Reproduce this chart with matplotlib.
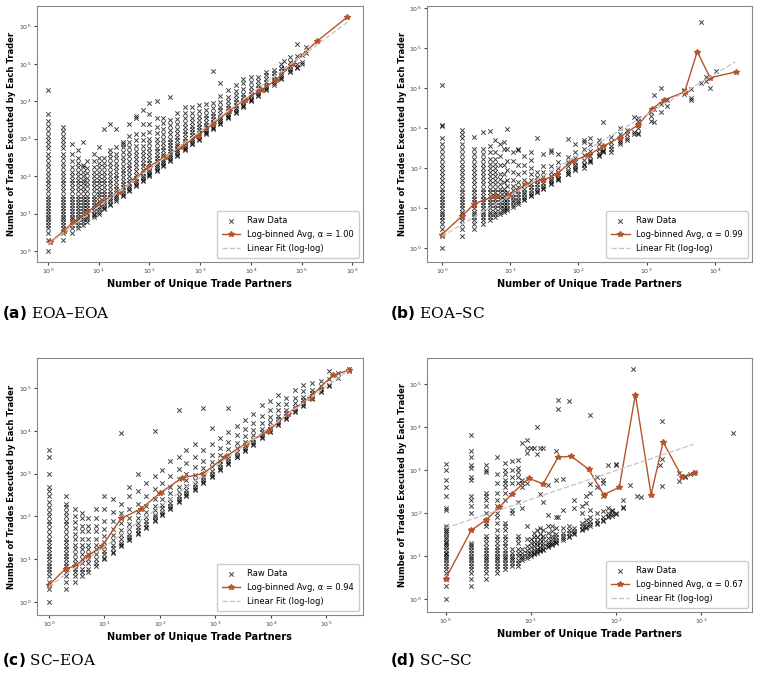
import matplotlib
matplotlib.use("Agg")
import matplotlib.pyplot as plt
import numpy as np

# ---------------- data ----------------
a_cols = {
 1: [1,2,3,4,5,6,7,8,10,12,14,17,20,25,30,40,50,65,80,100,130,170,220,300,400,550,700,900,1200,1600,2200,3000,4500,20000],
 2: [2,3,4,5,6,7,8,10,12,14,17,20,25,30,40,50,65,80,100,130,170,220,300,400,550,700,900,1200,1600,2000],
 3: [3,4,5,6,7,8,10,12,14,17,20,25,30,40,50,65,80,100,130,170,250,400,700],
 4: [4,5,6,7,8,10,12,14,17,20,25,30,40,50,65,80,100,130,170,220,300,500],
 5: [5,6,7,8,10,12,14,17,20,25,30,40,50,65,80,100,130,170,200,800],
 6: [6,7,8,10,12,14,17,20,25,30,40,55,70,90,120,160,250],
 8: [8,9,10,12,14,17,20,25,30,40,50,65,80,100,130,170,250,400],
 10: [10,11,13,15,18,22,27,33,40,50,65,80,100,130,170,220,300,600],
 13: [13,14,16,19,22,27,33,40,50,65,80,100,130,170,220,300,1800],
 17: [17,18,21,24,28,34,40,50,65,80,100,130,170,220,300,400,500,2500],
 22: [22,24,27,31,36,44,55,70,90,110,140,180,230,300,400,600,1800],
 30: [30,32,36,42,50,60,75,95,120,150,190,250,330,450,600,800,700],
 40: [40,43,48,55,65,80,100,125,160,200,260,340,450,600,800,1200,2500],
 55: [55,58,65,75,90,110,135,170,220,280,360,480,650,900,1300,3500,4000],
 75: [75,80,90,100,120,150,185,230,290,370,480,650,900,1300,2500,6000],
 100: [100,105,115,130,150,180,220,270,340,430,560,750,1000,1500,2500,4500,9000],
 140: [140,150,165,185,210,250,300,370,460,580,750,1000,1400,2000,3500,10000],
 190: [190,200,220,250,290,340,400,490,600,760,1000,1300,1800,2600,3500],
 260: [260,275,300,340,390,460,550,670,820,1000,1300,1700,2300,3200,13000],
 350: [350,370,410,460,530,620,740,900,1100,1400,1800,2400,3300,5000],
 500: [500,530,580,650,750,880,1050,1300,1600,2000,2600,3500,5000,7000],
 700: [700,740,810,910,1050,1250,1500,1800,2200,2800,3600,5000,7000],
 950: [950,1000,1100,1250,1450,1700,2000,2500,3100,4000,5500,8000],
 1300: [1300,1380,1520,1720,2000,2350,2800,3500,4400,6000,8500],
 1800: [1800,1900,2100,2400,2800,3300,4000,5000,6500,9000,65000],
 2500: [2500,2650,2900,3300,3900,4700,5700,7200,9500,14000,30000],
 3500: [3500,3700,4100,4700,5500,6600,8000,10000,13000,20000],
 5000: [5000,5300,5900,6700,7800,9300,11500,14500,19000,27000],
 7000: [7000,7400,8200,9400,11000,13000,16000,21000,30000,40000],
 10000: [10000,10600,11800,13500,16000,19000,24000,33000,45000],
 14000: [14000,15000,16500,19000,22500,27000,34000,45000],
 20000: [20000,21500,24000,28000,33000,40000,50000,60000],
 28000: [28000,30000,34000,40000,47000,56000,70000],
 40000: [40000,43000,48000,55000,65000,80000,100000],
 45000: [80000,120000],
 60000: [60000,65000,75000,90000,110000,150000],
 80000: [80000,85000,100000,160000],
 100000: [100000,110000,170000],
 120000: [200000,280000],
 80001: [350000],
}
a_bx = [1.1,2.1,3.2,6,11,25,50,100,200,420,900,1800,3700,7500,16000,32000,65000,200000,800000]
a_by = [1.7,3.5,6,11,20,38,80,180,330,600,1200,2500,5500,11000,20000,38000,100000,400000,1800000]
a_fit_x = [1, 800000]
a_fit_y = [1.5, 1300000]

b_cols = {
 1: [1,2,3,4,5,6,7,8,10,12,14,17,20,25,30,40,50,65,80,100,130,170,220,300,400,550,1100,1200,12000],
 2: [2,3,4,5,6,7,8,10,12,14,17,20,25,30,40,50,65,80,100,130,170,220,300,400,550,700,900],
 3: [3,4,5,6,7,8,10,12,14,17,20,25,30,40,50,65,80,100,130,170,220,300,600],
 4: [4,5,6,7,8,10,12,14,17,20,25,30,40,50,65,80,100,130,170,220,300,800],
 5: [5,6,7,8,10,12,14,17,20,25,30,40,50,65,80,100,130,170,250,350,850],
 6: [6,7,8,10,12,14,17,20,25,30,40,50,65,80,100,130,170,250,500],
 7: [7,8,10,12,14,17,20,25,30,40,55,70,120,200,400],
 8: [8,9,10,12,14,17,20,25,30,45,70,120,300,450],
 9: [9,10,12,14,17,20,25,35,50,90,150,300,950],
 11: [11,12,14,16,19,23,28,35,50,80,150,250],
 13: [13,14,16,19,22,27,33,45,70,120,280,300],
 16: [16,17,19,22,26,31,38,50,80,120,200],
 20: [20,21,24,28,33,40,50,70,100,160,250],
 25: [25,26,29,34,40,48,60,80,550],
 30: [30,32,36,42,50,60,80,110,230],
 40: [40,42,47,55,65,80,110,250,280],
 50: [50,53,58,67,80,100,140,220],
 70: [70,73,80,92,110,140,190,520],
 90: [90,95,105,120,145,180,250,400],
 120: [100,120,130,160,210,300,450,500],
 150: [140,150,160,200,260,400,550],
 200: [200,210,240,300,400,500],
 230: [250,260,280,1400],
 300: [250,300,350,450,600],
 400: [400,450,500,700,1000],
 520: [500,550,700,900],
 650: [700,800,1900],
 750: [700,750,1000,1200,1500,1800],
 1150: [1500,2000,2500],
 1300: [1400,3000,6500],
 1600: [2500,4000,10000],
 2000: [3500,5000],
 3500: [7000,8500,9000],
 4500: [5000,5500,9500],
 6300: [13000,430000],
 7500: [15000,19000],
 8500: [10000],
 10500: [27000],
}
b_bx = [1,2,3,6,10,17,30,48,80,140,230,400,750,1200,1800,3600,5500,8500,20000]
b_by = [2.2,6.5,13,20,21,40,50,70,150,210,350,580,1200,3000,5000,8000,80000,18000,25000]
b_fit_x = [1, 20000]
b_fit_y = [2.0, 45000]

c_cols = {
 1: [1,2,3,4,5,6,7,8,10,12,14,17,20,25,30,40,50,65,80,100,130,170,220,300,400,500,1000,2500,3500],
 2: [2,3,4,5,6,7,8,10,12,14,17,20,25,30,40,50,65,80,100,130,170,200,300],
 3: [3,4,5,6,8,10,13,17,22,30,40,55,75,100,150],
 4: [4,5,6,8,10,13,17,22,30,45,60,90,120],
 5: [5,6,8,10,13,17,22,30,45,60,90],
 7: [7,8,10,13,17,22,30,45,60,90,150],
 10: [10,11,13,16,20,26,35,50,80,150,300],
 14: [14,15,18,22,28,36,50,80,130,250],
 20: [20,21,24,29,36,48,70,120,200,9000],
 28: [28,30,34,40,50,65,90,150,300,500],
 40: [40,42,48,57,70,90,130,200,400,1000],
 55: [55,58,65,78,95,125,180,300,600],
 80: [80,85,95,110,140,180,260,450,900,10000],
 110: [110,115,130,155,190,250,380,600,1200],
 150: [150,160,180,210,260,350,500,900,2000],
 220: [220,230,260,300,380,500,750,1300,2500,30000],
 300: [300,320,360,420,520,700,1000,1800,3500],
 420: [420,440,500,580,720,950,1400,2500,5000],
 600: [600,630,700,820,1000,1350,2000,3500,35000],
 850: [850,900,1000,1150,1400,1900,2800,5000,12000],
 1200: [1200,1260,1400,1650,2000,2700,4000,7000],
 1700: [1700,1800,2000,2300,2800,3800,5500,9500,35000],
 2400: [2400,2500,2800,3300,4000,5300,8000,13000],
 3400: [3400,3600,4000,4600,5600,7500,11000,18000],
 4800: [4800,5000,5600,6500,8000,10500,15000,25000],
 6800: [6800,7200,8000,9300,11000,15000,22000,40000],
 9500: [9500,10000,11200,13000,16000,21000,30000,50000],
 13500: [13500,14200,16000,18500,22000,30000,42000,70000],
 19000: [19000,20000,22500,26000,31000,42000,60000],
 27000: [27000,28500,32000,37000,45000,60000,90000],
 38000: [38000,40000,45000,52000,63000,85000,120000],
 55000: [55000,58000,65000,75000,90000,130000],
 80000: [80000,85000,95000,110000,150000],
 110000: [110000,120000,160000,250000],
 160000: [170000,220000],
 250000: [250000,280000],
}
c_bx = [1,2,3,5,9,20,45,100,250,600,1500,3500,9000,20000,50000,130000,250000]
c_by = [2.5,6,7,12,20,90,150,350,800,1000,2500,5000,10000,25000,60000,200000,260000]
c_fit_x = [1, 250000]
c_fit_y = [2.3, 260000]

d_cols = {
 1: [1,2,3,4,5,6,7,8,9,10,11,12,14,16,18,20,22,25,28,32,36,40,45,50,120,130,250,400,600,1000,1400],
 2: [2,3,4,5,6,7,8,9,10,12,14,16,18,20,40,100,150,200,250,600,700,1100,1300,2000,2800,6500],
 3: [3,4,5,6,7,8,9,10,12,14,16,20,25,30,50,60,70,100,150,200,250,300,900,1000,1300],
 4: [4,5,6,7,8,9,10,12,14,16,20,25,30,40,60,80,100,150,200,300,500,800,2000],
 5: [5,6,7,8,9,10,12,14,17,20,25,30,40,50,60,200,300,400,500,600,800,1000,1500],
 6: [6,7,8,9,10,12,15,100,120,500,700,1000,1600],
 7: [6,7,8,10,12,15,20,25,30,180,500,700,900,1100,1700],
 8: [8,9,10,12,15,130,400,500,600,4200],
 9: [9,10,12,14,17,25,50,2500,3200,5000,500],
 10: [10,11,13,16,20,25,3200],
 11: [11,12,14,17,22,28,35,3300],
 12: [12,13,15,18,22,28,40,2400,10000],
 13: [13,14,16,20,25,32,45,280,3300],
 14: [14,15,17,20,25,30,40,3300,180],
 16: [16,17,19,22,27,35,50,90,450],
 18: [18,19,21,25,30,38,50],
 20: [20,21,24,28,33,45,80,600,2800],
 21: [27000,43000,80],
 24: [24,26,30,35,45,120,620],
 28: [28,30,34,40,50,40000],
 32: [32,34,38,45,200,130],
 40: [40,42,50,60,150,100],
 45: [45,48,55,70,170,250],
 50: [50,55,65,80,120,300,19000,470],
 60: [55,60,70,100,700,400],
 70: [65,70,80,110,500,600,250],
 80: [80,85,100,130,1300],
 90: [85,95,110,120],
 100: [95,100,1400,1300],
 120: [130,140,200],
 145: [460],
 160: [230000],
 180: [250],
 200: [240],
 330: [1300],
 350: [14000,1800,430],
 550: [550,850],
 650: [700,750],
 750: [800],
 850: [900],
 2400: [7500],
}
d_bx = [1,2,3,4.3,6,9.5,14,21,30,48,72,110,170,260,360,600,830]
d_by = [3,40,70,140,280,650,480,2000,2100,1050,270,400,57000,270,4500,700,850]
d_fit_x = [1, 820]
d_fit_y = [45, 4000]

panels = [
 ("a", "EOA–EOA", a_cols, a_bx, a_by, a_fit_x, a_fit_y, "1.00", (0.6, 1.6e6), (0.5, 3.5e6)),
 ("b", "EOA–SC", b_cols, b_bx, b_by, b_fit_x, b_fit_y, "0.99", (0.6, 3.5e4), (0.45, 1.1e6)),
 ("c", "SC–EOA", c_cols, c_bx, c_by, c_fit_x, c_fit_y, "0.94", (0.6, 4.5e5), (0.5, 5e5)),
 ("d", "SC–SC", d_cols, d_bx, d_by, d_fit_x, d_fit_y, "0.67", (0.6, 4e3), (0.5, 4e5)),
]
positions = [
 [0.048, 0.615, 0.428, 0.376],
 [0.56, 0.615, 0.427, 0.376],
 [0.048, 0.097, 0.428, 0.377],
 [0.56, 0.101, 0.427, 0.373],
]
captions_xy = [(0.003, 0.54), (0.512, 0.54), (0.003, 0.031), (0.512, 0.031)]

fig = plt.figure(figsize=(7.62, 6.81), dpi=100)
for (lab, name, cols, bx, by, fx, fy, alpha, xl, yl), pos, cxy in zip(panels, positions, captions_xy):
    ax = fig.add_axes(pos)
    xs, ys = [], []
    for k, v in cols.items():
        xs += [k] * len(v)
        ys += v
    ax.scatter(xs, ys, marker="x", s=10, c="black", linewidths=0.7, alpha=0.75, label="Raw Data")
    ax.plot(bx, by, "-*", color="#b5532a", lw=1.0, ms=4, label=f"Log-binned Avg, α = {alpha}")
    ax.plot(fx, fy, "--", color="#c8c8c8", lw=1.0, label="Linear Fit (log-log)")
    ax.set_xscale("log"); ax.set_yscale("log")
    ax.set_xlim(*xl); ax.set_ylim(*yl)
    ax.minorticks_off()
    ax.tick_params(labelsize=4.5, length=2, pad=1.5, colors="#444444")
    ax.set_xlabel("Number of Unique Trade Partners", fontsize=7, fontweight="bold", labelpad=2)
    ax.set_ylabel("Number of Trades Executed by Each Trader", fontsize=6, fontweight="bold", labelpad=2)
    for s in ax.spines.values():
        s.set_color("#888888")
    ax.legend(loc="lower right", fontsize=6, handlelength=2.2, borderpad=0.6, labelspacing=0.6, framealpha=1)
    fig.text(cxy[0], cxy[1], f"$\\mathbf{{({lab})}}$ {name}", fontsize=11, family="serif", va="center")

fig.savefig("out.png", dpi=100)
